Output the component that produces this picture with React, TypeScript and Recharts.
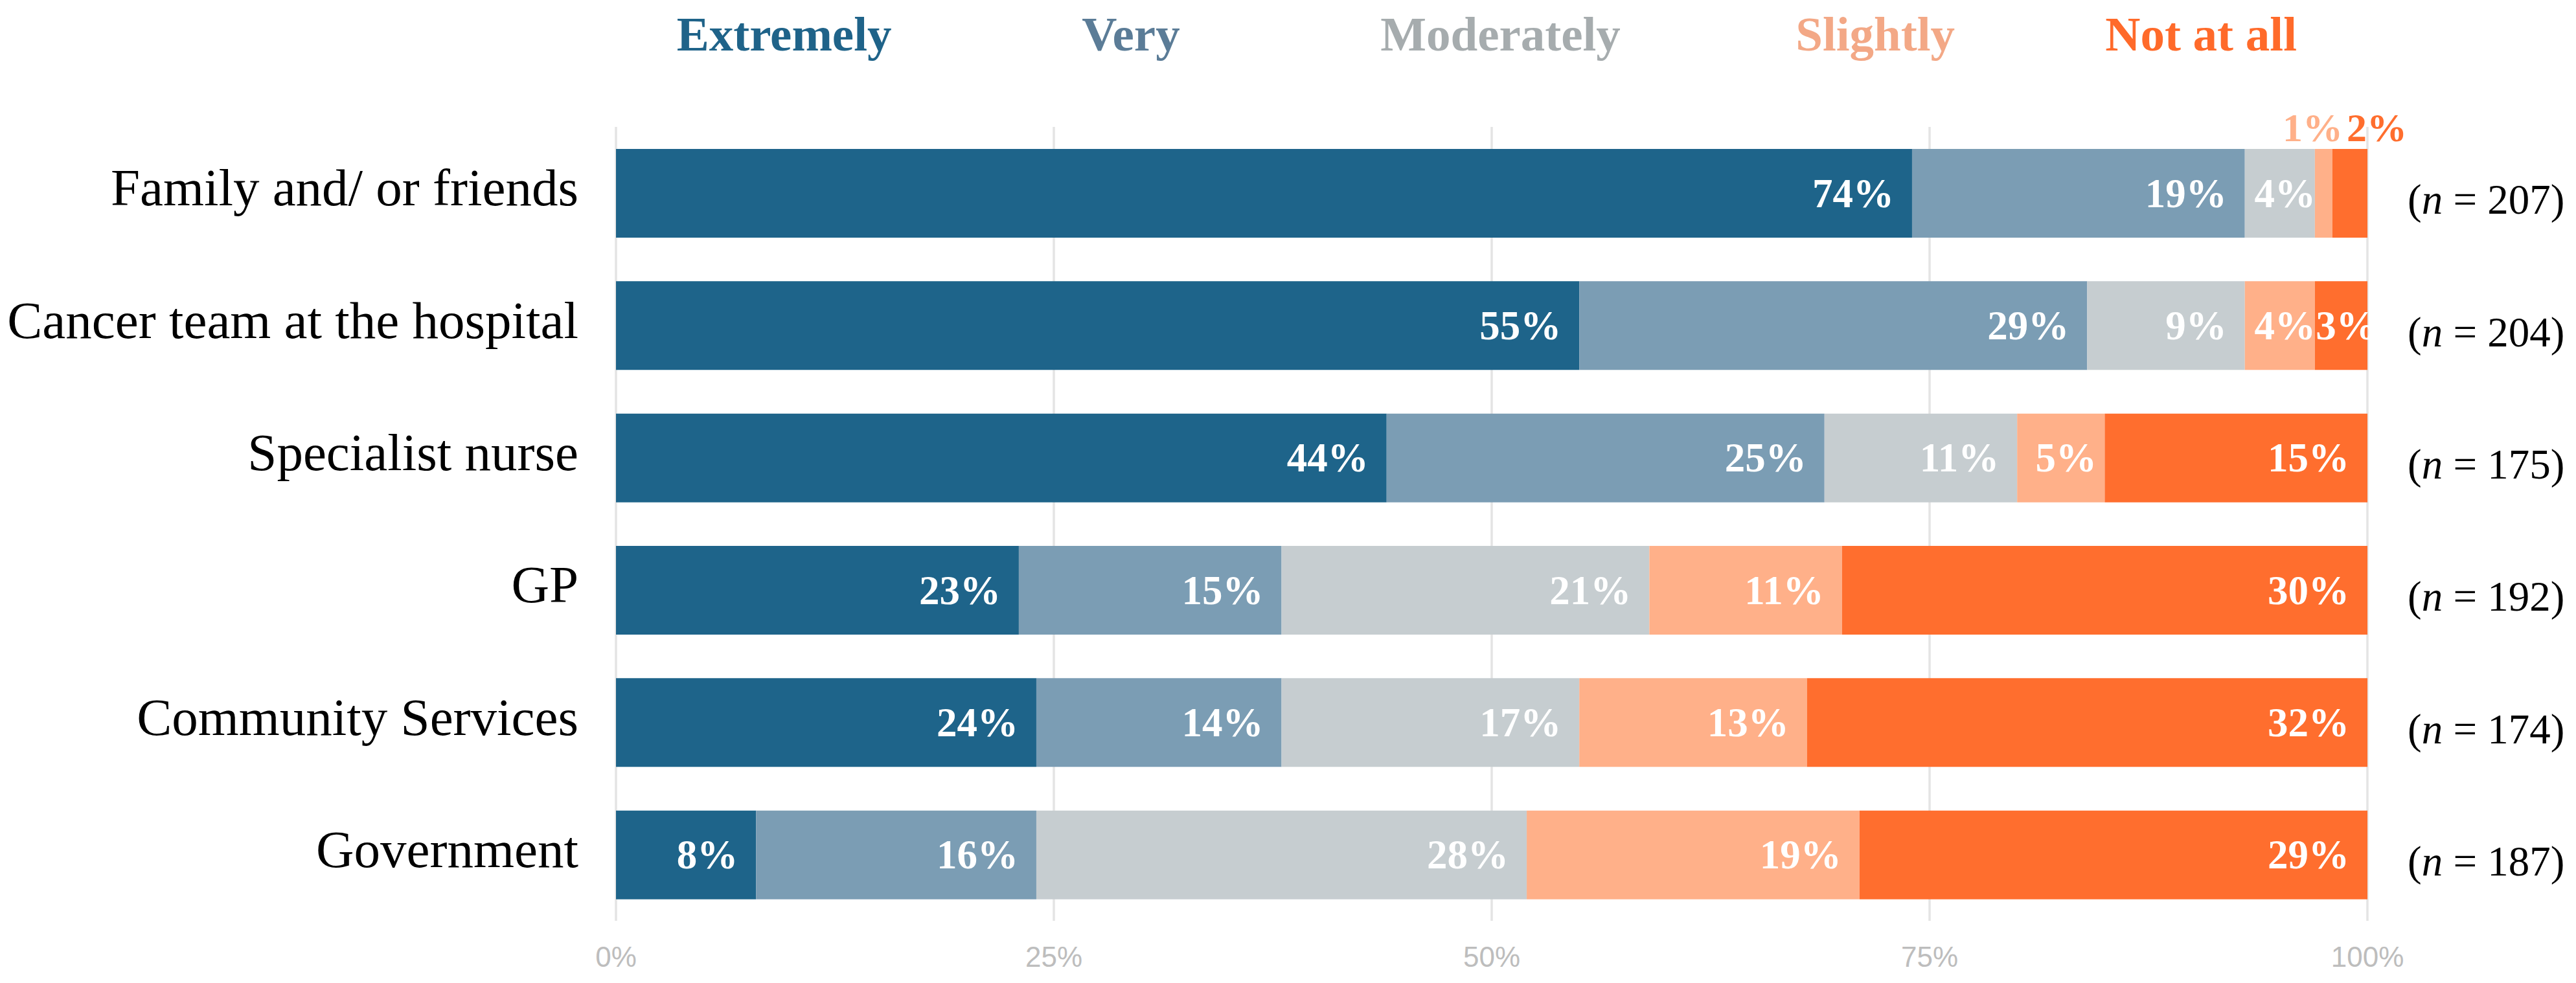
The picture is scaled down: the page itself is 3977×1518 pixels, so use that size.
import React from 'react';
import { BarChart, Bar, XAxis, YAxis, CartesianGrid, LabelList } from 'recharts';

const categories = [
  'Family and/ or friends',
  'Cancer team at the hospital',
  'Specialist nurse',
  'GP',
  'Community Services',
  'Government',
];
const extremely = [74, 55, 44, 23, 24, 8];
const very = [19, 29, 25, 15, 14, 16];
const moderately = [4, 9, 11, 21, 17, 28];
const slightly = [1, 4, 5, 11, 13, 19];
const notAtAll = [2, 3, 15, 30, 32, 29];
const sampleSizes = [207, 204, 175, 192, 174, 187];

const seriesNames = ['Extremely', 'Very', 'Moderately', 'Slightly', 'Not at all'];
const seriesKeys = ['extremely', 'very', 'moderately', 'slightly', 'notAtAll'];
const barColors = ['#1e648a', '#7b9db4', '#c6cdd0', '#ffb089', '#ff6e2e'];
const legendColors = ['#1f6389', '#5b7c97', '#a6acae', '#f3a886', '#ff6a2a'];
const xTicks = [0, 25, 50, 75, 100];
const legendX = [9.6, 29.4, 50.5, 71.9, 90.5];

const data = categories.map((name, i) => ({
  name,
  n: sampleSizes[i],
  extremely: extremely[i],
  very: very[i],
  moderately: moderately[i],
  slightly: slightly[i],
  notAtAll: notAtAll[i],
}));

const SERIF = '"Liberation Serif", "Times New Roman", serif';
const SANS = '"Liberation Sans", Arial, sans-serif';

const CHART_W = 3960;
const CHART_H = 1500;
const LEFT_AXIS_W = 943;
const RIGHT_AXIS_W = 313;
const TOP_MARGIN = 188;
const BOTTOM_AXIS_H = 86;
const PLOT_W = CHART_W - LEFT_AXIS_W - RIGHT_AXIS_W;

const makeLabel = (si: number) => (props: any) => {
  const x = Number(props.x);
  const y = Number(props.y);
  const width = Number(props.width);
  const height = Number(props.height);
  const v = Number(props.value);
  if (!v) return null;
  if (v <= 2) {
    const isLast = si === seriesKeys.length - 1;
    return (
      <text
        x={isLast ? x + 22 : x + width + 16}
        y={y - 12}
        textAnchor={isLast ? 'start' : 'end'}
        fill={barColors[si]}
        fontFamily={SERIF}
        fontWeight="bold"
        fontSize={62}
      >
        {`${v}%`}
      </text>
    );
  }
  const ty = y + height / 2 + 21;
  if (v <= 5) {
    return (
      <text x={x + width / 2 + 8} y={ty} textAnchor="middle" fill="#ffffff" fontFamily={SERIF} fontWeight="bold" fontSize={63}>
        {`${v}%`}
      </text>
    );
  }
  return (
    <text x={x + width - 28} y={ty} textAnchor="end" fill="#ffffff" fontFamily={SERIF} fontWeight="bold" fontSize={63}>
      {`${v}%`}
    </text>
  );
};

const CategoryTick = (props: any) => {
  const { x, y, payload } = props;
  return (
    <text x={Number(x)} y={Number(y) + 19} textAnchor="end" fill="#000000" fontFamily={SERIF} fontSize={81}>
      {payload.value}
    </text>
  );
};

const NTick = (props: any) => {
  const { x, y, payload } = props;
  const idx = categories.indexOf(payload.value);
  return (
    <text x={Number(x)} y={Number(y) + 32} textAnchor="start" fill="#000000" fontFamily={SERIF} fontSize={65}>
      {'('}
      <tspan fontStyle="italic">n</tspan>
      {` = ${sampleSizes[idx]})`}
    </text>
  );
};

const PercentTick = (props: any) => {
  const { x, y, payload } = props;
  return (
    <text x={Number(x)} y={Number(y) + 71} textAnchor="middle" fill="#bdbdbd" fontFamily={SANS} fontSize={44}>
      {`${payload.value}%`}
    </text>
  );
};

const LegendOverlay = () => (
  <svg
    width={CHART_W}
    height={TOP_MARGIN}
    style={{ position: 'absolute', left: 0, top: 0, pointerEvents: 'none' }}
  >
    {seriesNames.map((name, i) => (
      <text
        key={name}
        x={LEFT_AXIS_W + (legendX[i] / 100) * PLOT_W}
        y={70}
        textAnchor="middle"
        fill={legendColors[i]}
        fontFamily={SERIF}
        fontWeight="bold"
        fontSize={75}
      >
        {name}
      </text>
    ))}
  </svg>
);

export default function App() {
  return (
    <div style={{ position: 'relative', width: CHART_W, height: CHART_H, background: '#ffffff' }}>
      <BarChart
        width={CHART_W}
        height={CHART_H}
        data={data}
        layout="vertical"
        margin={{ top: TOP_MARGIN, right: 0, bottom: 0, left: 0 }}
      >
        <CartesianGrid horizontal={false} vertical={true} stroke="#e4e4e4" strokeWidth={3.5} />
        <XAxis
          type="number"
          domain={[0, 100]}
          ticks={xTicks}
          interval={0}
          axisLine={false}
          tickLine={false}
          tickSize={0}
          tickMargin={0}
          height={BOTTOM_AXIS_H}
          tick={<PercentTick />}
        />
        <YAxis
          type="category"
          dataKey="name"
          width={LEFT_AXIS_W}
          interval={0}
          axisLine={false}
          tickLine={false}
          tickSize={0}
          tickMargin={58}
          tick={<CategoryTick />}
        />
        <YAxis
          yAxisId="right"
          orientation="right"
          type="category"
          dataKey="name"
          width={RIGHT_AXIS_W}
          interval={0}
          axisLine={false}
          tickLine={false}
          tickSize={0}
          tickMargin={62}
          tick={<NTick />}
        />
        {seriesKeys.map((k, si) => (
          <Bar
            key={k}
            dataKey={k}
            name={seriesNames[si]}
            stackId="a"
            fill={barColors[si]}
            barSize={137}
            isAnimationActive={false}
          >
            <LabelList dataKey={k} content={makeLabel(si)} />
          </Bar>
        ))}
      </BarChart>
      <LegendOverlay />
    </div>
  );
}
